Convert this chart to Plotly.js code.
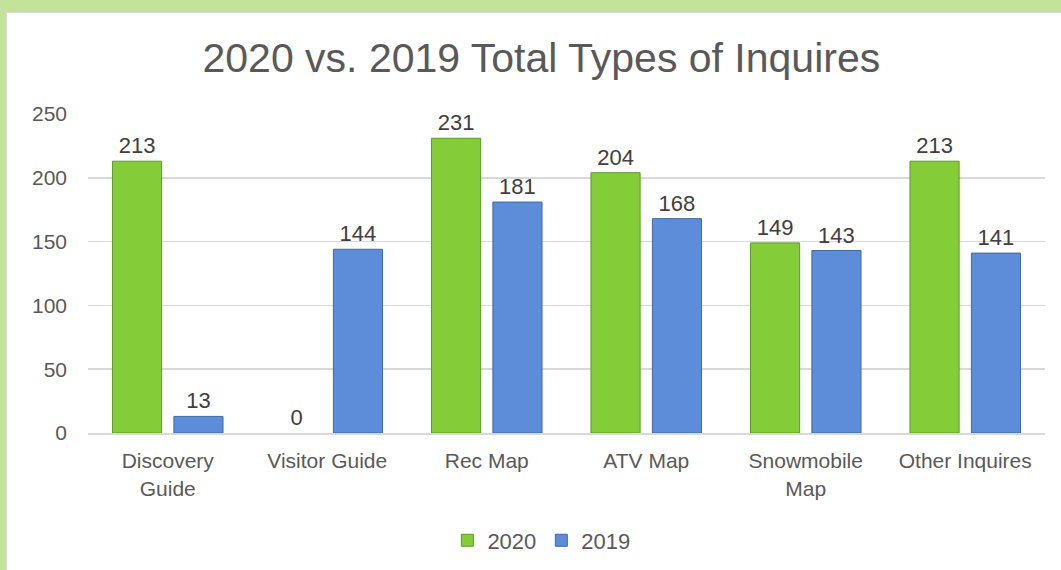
<!DOCTYPE html>
<html>
<head>
<meta charset="utf-8">
<script src="https://cdn.plot.ly/plotly-3.0.1.min.js"></script>
<style>
  html, body { margin: 0; padding: 0; background: #c3e29a; width: 1061px; height: 570px; overflow: hidden; }
  #frame { position: absolute; left: 6px; top: 12px; width: 1054px; height: 557px; background: #fff; border-left: 1px solid #d9d9d9; border-top: 1px solid #d9d9d9; }
  #chart { width: 1054px; height: 557px; }
</style>
</head>
<body>
<div id="frame"><div id="chart"></div></div>
<script>
const categories = ["Discovery<br>Guide", "Visitor Guide", "Rec Map", "ATV Map", "Snowmobile<br>Map", "Other Inquires"];
const values2020 = [213, 0, 231, 204, 149, 213];
const values2019 = [13, 144, 181, 168, 143, 141];
const seriesNames = ["2020", "2019"];
const yTicks = [0, 50, 100, 150, 200, 250];

const font = "Liberation Sans, Arial, sans-serif";
function lineWidths(vals) { return vals.map(v => v === 0 ? 0 : 1); }
const traces = [
  {
    type: "bar", name: seriesNames[0], x: categories, y: values2020,
    text: values2020.map(String), textposition: "outside", cliponaxis: false,
    textfont: {family: font, size: 22, color: "#404040"},
    marker: {color: "#84cc38", line: {color: "#5e9a26", width: lineWidths(values2020)}},
    hoverinfo: "x+y"
  },
  {
    type: "bar", name: seriesNames[1], x: categories, y: values2019,
    text: values2019.map(String), textposition: "outside", cliponaxis: false,
    textfont: {family: font, size: 22, color: "#404040"},
    marker: {color: "#5d8dd8", line: {color: "#3f69a8", width: lineWidths(values2019)}},
    hoverinfo: "x+y"
  }
];

const layout = {
  width: 1054, height: 557,
  margin: {l: 81, r: 16, t: 101, b: 137},
  paper_bgcolor: "#ffffff", plot_bgcolor: "#ffffff",
  font: {family: font, color: "#595959", size: 22},
  title: {
    text: "2020 vs. 2019 Total Types of Inquires",
    font: {family: font, size: 41, color: "#595959"},
    xref: "container", x: 0.507, xanchor: "center",
    yref: "container", y: 0.92, yanchor: "middle"
  },
  barmode: "group", bargap: 0.23, bargroupgap: 0.2,
  xaxis: {
    type: "category", tickfont: {size: 21, color: "#595959"},
    showline: true, linecolor: "#d9d9d9", linewidth: 2,
    ticks: "", ticklabelstandoff: 8, showgrid: false, zeroline: false
  },
  yaxis: {
    range: [0, 250], tickvals: yTicks, ticktext: yTicks.map(String),
    tickfont: {size: 21, color: "#595959"},
    showgrid: true, gridcolor: "#d9d9d9", gridwidth: 1.5,
    zeroline: false, showline: false, ticks: "", ticklabelstandoff: 20
  },
  showlegend: true,
  legend: {
    orientation: "h", xref: "container", x: 0.507, xanchor: "center",
    yref: "container", y: 0.053, yanchor: "middle",
    font: {size: 22, color: "#595959"}, itemwidth: 30, tracegroupgap: 0
  }
};

Plotly.newPlot("chart", traces, layout, {displayModeBar: false, staticPlot: true});
</script>
</body>
</html>
